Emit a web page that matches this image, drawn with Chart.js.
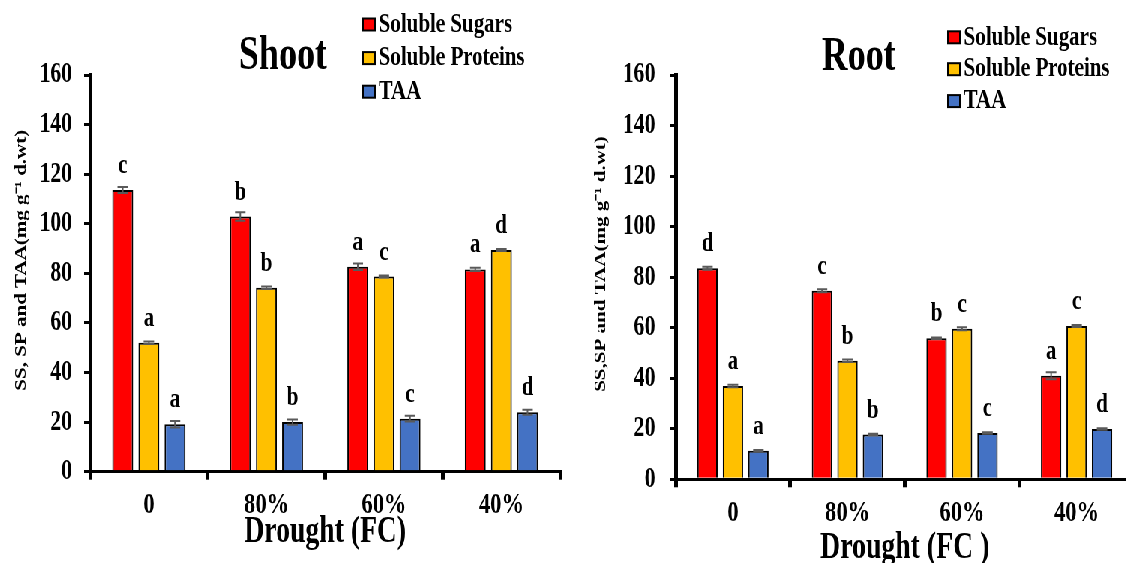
<!DOCTYPE html>
<html>
<head>
<meta charset="utf-8">
<script src="https://cdn.jsdelivr.net/npm/chart.js@4"></script>
<style>
  html, body { margin: 0; padding: 0; overflow: hidden; background: #fff; }
  /* the original figure is squeezed horizontally, so draw wide and scale down */
  #wrap { position: absolute; left: 0; top: 0; width: 1540px; height: 563px;
          transform: scaleX(0.75); transform-origin: 0 0; }
  canvas { position: absolute; top: 0; }
  #shoot { left: 0; }
  #root { left: 780px; }
</style>
</head>
<body>
<div id="wrap">
  <canvas id="shoot" width="780" height="563"></canvas>
  <canvas id="root" width="760" height="563"></canvas>
</div>
<script>
// Data
const categories = ['0', '80%', '60%', '40%'];
const seriesNames = ['Soluble Sugars', 'Soluble Proteins', 'TAA'];
const seriesColors = ['#FF0000', '#FFC000', '#4472C4'];

const shootSS = [113.6, 102.9, 82.7, 81.6];
const shootSP = [52.0, 74.2, 78.7, 89.4];
const shootTAA = [19.1, 20.0, 21.4, 24.0];
const shootSSErr = [1.2, 1.7, 1.3, 0.7];
const shootSPErr = [0.5, 0.5, 0.4, 0.4];
const shootTAAErr = [1.3, 1.1, 1.2, 1.0];
const shootSSLetters = ['c', 'b', 'a', 'a'];
const shootSPLetters = ['a', 'b', 'c', 'd'];
const shootTAALetters = ['a', 'b', 'c', 'd'];

const rootSS = [83.5, 74.6, 55.8, 41.0];
const rootSP = [36.9, 46.9, 59.6, 60.7];
const rootTAA = [11.3, 17.7, 18.3, 19.9];
const rootSSErr = [0.6, 0.6, 0.3, 1.4];
const rootSPErr = [0.5, 0.5, 0.6, 0.4];
const rootTAAErr = [0.3, 0.3, 0.3, 0.3];
const rootSSLetters = ['d', 'c', 'b', 'a'];
const rootSPLetters = ['a', 'b', 'c', 'c'];
const rootTAALetters = ['a', 'b', 'c', 'd'];

const yMin = 0, yMax = 160, yStep = 20;

const FONT = '"Liberation Serif", "Times New Roman", serif';

// error bars, letters, panel title and legend
const decor = {
  id: 'decor',
  afterDatasetsDraw(chart, args, o) {
    const ctx = chart.ctx;
    const y = chart.scales.y;
    ctx.save();
    chart.data.datasets.forEach((ds, di) => {
      chart.getDatasetMeta(di).data.forEach((bar, i) => {
        const v = ds.data[i], e = ds.errors[i];
        const yt = y.getPixelForValue(v + e), yb = y.getPixelForValue(v - e);
        ctx.strokeStyle = '#5a5a5a';
        ctx.lineWidth = 2;
        ctx.beginPath();
        ctx.moveTo(bar.x, yt); ctx.lineTo(bar.x, yb);
        ctx.moveTo(bar.x - 7, yt); ctx.lineTo(bar.x + 7, yt);
        ctx.moveTo(bar.x - 7, yb); ctx.lineTo(bar.x + 7, yb);
        ctx.stroke();
        ctx.fillStyle = '#000';
        ctx.font = 'bold 28px ' + FONT;
        ctx.textAlign = 'center';
        ctx.textBaseline = 'alphabetic';
        ctx.fillText(ds.letters[i], bar.x, bar.y - 17);
      });
    });

    ctx.fillStyle = '#000';
    ctx.font = 'bold 48px ' + FONT;
    ctx.textAlign = 'center';
    ctx.textBaseline = 'alphabetic';
    ctx.fillText(o.title, o.titleX, o.titleY);

    ctx.font = 'bold 28px ' + FONT;
    ctx.textAlign = 'left';
    ctx.textBaseline = 'middle';
    chart.data.datasets.forEach((ds, di) => {
      const cy = o.legY + di * o.legStep;
      ctx.fillStyle = ds.backgroundColor;
      ctx.fillRect(o.legX, cy - 6, 16, 12);
      ctx.strokeStyle = '#000';
      ctx.lineWidth = 2;
      ctx.strokeRect(o.legX, cy - 6, 16, 12);
      ctx.fillStyle = '#000';
      ctx.fillText(ds.label, o.legX + 21, cy);
    });
    ctx.restore();
  }
};

function makeChart(id, values, errors, letters, o) {
  return new Chart(document.getElementById(id), {
    type: 'bar',
    data: {
      labels: categories,
      datasets: seriesNames.map((name, k) => ({
        label: name,
        data: values[k],
        errors: errors[k],
        letters: letters[k],
        backgroundColor: seriesColors[k],
        borderColor: '#000',
        borderWidth: 2,
        categoryPercentage: 0.667,
        barPercentage: 0.8
      }))
    },
    options: {
      responsive: false,
      animation: false,
      layout: { padding: { top: 75, right: o.padRight, left: 0, bottom: 0 } },
      plugins: {
        legend: { display: false },
        tooltip: { enabled: false },
        decor: o
      },
      scales: {
        x: {
          grid: { drawOnChartArea: false, tickLength: 8, lineWidth: 5, color: '#000', offset: true },
          border: { color: '#000', width: 3 },
          ticks: { color: '#000', padding: 8, font: { family: FONT, size: 30, weight: 'bold' } },
          title: {
            display: true, text: o.xTitle, color: '#000',
            font: { family: FONT, size: 37, weight: 'bold', lineHeight: 1 },
            padding: { top: 0, bottom: o.xTitlePad }
          },
          afterFit: s => { s.height = o.xHeight; }
        },
        y: {
          min: yMin, max: yMax,
          grid: { drawOnChartArea: false, tickLength: 8, lineWidth: 3, color: '#000' },
          border: { color: '#000', width: 5 },
          ticks: { stepSize: yStep, color: '#000', padding: o.yTickPad, font: { family: FONT, size: 29, weight: 'bold' } },
          title: {
            display: true, text: o.yTitle, color: '#000',
            font: { family: FONT, size: 21, weight: 'bold' },
            padding: { top: o.yTitlePad, bottom: 0 }
          },
          afterFit: s => { s.width = o.yWidth; }
        }
      }
    },
    plugins: [decor]
  });
}

makeChart('shoot',
  [shootSS, shootSP, shootTAA],
  [shootSSErr, shootSPErr, shootTAAErr],
  [shootSSLetters, shootSPLetters, shootTAALetters],
  {
    title: 'Shoot', titleX: 377, titleY: 69,
    legX: 484, legY: 24.5, legStep: 33.6,
    xTitle: 'Drought (FC)', xTitlePad: 12, xHeight: 91.3,
    yTitle: '     SS, SP and TAA(mg g\u207B\u00B9 d.wt)', yTitlePad: 16, yTickPad: 16,
    yWidth: 120, padRight: 33
  });

makeChart('root',
  [rootSS, rootSP, rootTAA],
  [rootSSErr, rootSPErr, rootTAAErr],
  [rootSSLetters, rootSPLetters, rootTAALetters],
  {
    title: 'Root', titleX: 365, titleY: 70,
    legX: 484, legY: 37.3, legStep: 31.9,
    xTitle: 'Drought (FC )', xTitlePad: -4, xHeight: 83.7,
    yTitle: '     SS,SP and TAA(mg g\u207B\u00B9 d.wt)', yTitlePad: 9, yTickPad: 19,
    yWidth: 121, padRight: 28
  });
</script>
</body>
</html>
